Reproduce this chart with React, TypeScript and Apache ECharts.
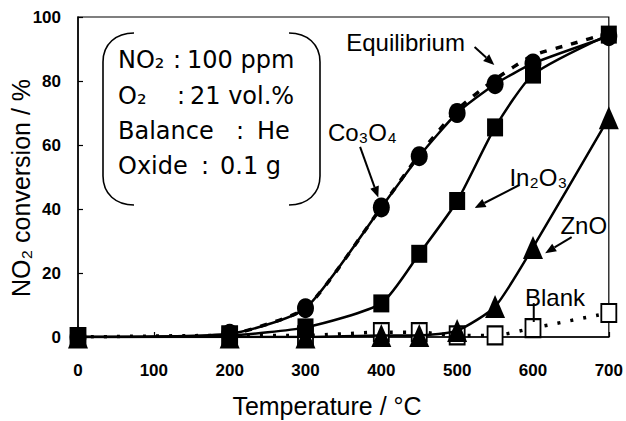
import React, { useEffect, useRef } from "react";
import * as echarts from "echarts";

// Measured NO2 conversion (%) against reaction temperature (°C)
const temps = [0, 200, 300, 400, 450, 500, 550, 600, 700];
const co3o4 = [0, 1, 9, 40.5, 56.5, 70, 79, 85.5, 94];
const in2o3 = [0, 0.5, 3, 10.5, 26, 42.5, 65.5, 82, 94.5];
const zno = [0, 0, 0, 0.5, 0.5, 2, 9.5, 28, 68.5];
const blank = [0, 0.5, 0.5, 1.5, 1.5, 0.5, 0.5, 2.8, 7.5];

// Thermodynamic equilibrium curve
const eqTemps = [200, 300, 400, 450, 500, 550, 600, 650, 700];
const equilibrium = [0.5, 9, 40.5, 57, 71, 80.5, 88, 91.5, 95];

// Axis ranges / tick steps
const xTicks = [0, 100, 200, 300, 400, 500, 600, 700];
const yTicks = [0, 20, 40, 60, 80, 100];

// Reaction conditions shown in the bracketed box
const condLabels = ["NO₂", "O₂", "Balance", "Oxide"];
const condValues = ["100 ppm", "21 vol.%", "He", "0.1 g"];

// Curve labels with their leader arrows, in data coordinates
const notes = [
  { text: "Equilibrium", at: [432, 91.9], from: [523, 90.6], to: [549, 85], head: true },
  { text: "Co₃O₄", at: [375, 64], from: [372, 59.4], to: [396, 43.6], head: true },
  { text: "In₂O₃", at: [607, 50], from: [582, 47.5], to: [523, 40.3], head: true },
  { text: "ZnO", at: [667, 35], from: [651, 31.2], to: [616, 26.2], head: true },
  { text: "Blank", at: [629, 12.5], from: [601, 10.6], to: [601, 4.7], head: false },
];

echarts.graphic.registerShape(
  "bracketL",
  echarts.graphic.extendPath("M134,33 C116,33 103,44 103,62 L103,176 C103,194 116,205 134,205", {})
);
echarts.graphic.registerShape(
  "bracketR",
  echarts.graphic.extendPath("M289,33 C307,33 320,44 320,62 L320,176 C320,194 307,205 289,205", {})
);

const pair = (xs: number[], ys: number[]) => xs.map((x, i) => [x, ys[i]]);

const TICK_FONT = "'Liberation Sans Narrow', 'Arial Narrow', 'Liberation Sans', Arial, sans-serif";
const LABEL_FONT = "'Liberation Sans', Arial, sans-serif";
const BOX_FONT = "'DejaVu Sans', sans-serif";

// Layout of the condition box rows: label x, colon x, value x, row y
const condLayout = [
  [118, 177, 187, 60],
  [118, 181, 190, 96],
  [118, 240, 257, 131],
  [118, 205, 220, 166],
];

function arrowParts(p0: number[], p1: number[], head: boolean) {
  const dx = p1[0] - p0[0];
  const dy = p1[1] - p0[1];
  const d = Math.hypot(dx, dy);
  const ux = dx / d;
  const uy = dy / d;
  const len = head ? 11 : 0;
  const hw = 4.5;
  const bx = p1[0] - ux * len;
  const by = p1[1] - uy * len;
  const parts: any[] = [
    {
      type: "line",
      shape: { x1: p0[0], y1: p0[1], x2: bx, y2: by },
      style: { stroke: "#000", lineWidth: 2 },
      z: 100,
    },
  ];
  if (head) {
    parts.push({
      type: "polygon",
      shape: {
        points: [
          [p1[0], p1[1]],
          [bx - uy * hw, by + ux * hw],
          [bx + uy * hw, by - ux * hw],
        ],
      },
      style: { fill: "#000" },
      z: 100,
    });
  }
  return parts;
}

export default function App() {
  const ref = useRef<HTMLDivElement>(null);

  useEffect(() => {
    document.body.style.margin = "0";
    if (!ref.current) return;
    const chart = echarts.init(ref.current, undefined, { renderer: "svg" });

    const lineBase = { type: "line", smooth: 0.2, symbolKeepAspect: false };

    chart.setOption({
      animation: false,
      backgroundColor: "#fff",
      grid: {
        left: 78,
        right: 14,
        top: 17,
        bottom: 84,
        show: true,
        borderColor: "#000",
        borderWidth: 1.2,
      },
      xAxis: {
        type: "value",
        min: xTicks[0],
        max: xTicks[xTicks.length - 1],
        interval: xTicks[1] - xTicks[0],
        axisLine: { show: true, lineStyle: { color: "#000", width: 1.5 } },
        axisTick: { show: true, inside: true, length: 5, lineStyle: { color: "#000", width: 1.2 } },
        axisLabel: {
          color: "#000",
          fontFamily: TICK_FONT,
          fontWeight: "bold",
          fontSize: 17,
          margin: 25,
        },
        splitLine: { show: false },
      },
      yAxis: {
        type: "value",
        min: yTicks[0],
        max: yTicks[yTicks.length - 1],
        interval: yTicks[1] - yTicks[0],
        axisLine: { show: true, lineStyle: { color: "#000", width: 1.5 } },
        axisTick: { show: true, inside: true, length: 5, lineStyle: { color: "#000", width: 1.2 } },
        axisLabel: {
          color: "#000",
          fontFamily: TICK_FONT,
          fontWeight: "bold",
          fontSize: 17,
          margin: 17,
        },
        splitLine: { show: false },
      },
      series: [
        {
          ...lineBase,
          name: "Equilibrium",
          data: pair(eqTemps, equilibrium),
          showSymbol: false,
          symbol: "none",
          lineStyle: { color: "#000", width: 3.5, type: [7, 9] },
          z: 2,
        },
        {
          ...lineBase,
          name: "Blank",
          data: pair(temps, blank),
          symbol: "rect",
          symbolSize: [15, 18],
          itemStyle: { color: "#fff", borderColor: "#000", borderWidth: 2 },
          lineStyle: { color: "#000", width: 3.5, type: [3, 10] },
          z: 3,
        },
        {
          ...lineBase,
          name: "Co₃O₄",
          data: pair(temps, co3o4),
          symbol: "circle",
          symbolSize: [17, 20],
          itemStyle: { color: "#000" },
          lineStyle: { color: "#000", width: 2.5 },
          z: 4,
        },
        {
          ...lineBase,
          name: "In₂O₃",
          data: pair(temps, in2o3),
          symbol: "rect",
          symbolSize: [16, 18],
          itemStyle: { color: "#000" },
          lineStyle: { color: "#000", width: 2.5 },
          z: 5,
        },
        {
          ...lineBase,
          name: "ZnO",
          data: pair(temps, zno),
          symbol: "triangle",
          symbolSize: [20, 23],
          itemStyle: { color: "#000" },
          lineStyle: { color: "#000", width: 2.5 },
          z: 6,
        },
      ],
    });

    const toPx = (p: number[]) => chart.convertToPixel({ gridIndex: 0 }, p) as number[];

    const graphics: any[] = [];

    // Axis titles
    graphics.push({
      type: "text",
      x: 327,
      y: 406,
      style: {
        text: "Temperature / °C",
        font: `25px ${LABEL_FONT}`,
        fill: "#000",
        textAlign: "center",
        textVerticalAlign: "middle",
      },
    });
    graphics.push({
      type: "text",
      x: 21,
      y: 188,
      rotation: Math.PI / 2,
      style: {
        text: "NO₂ conversion / %",
        font: `25px ${LABEL_FONT}`,
        fill: "#000",
        textAlign: "center",
        textVerticalAlign: "middle",
      },
    });

    // Condition box
    graphics.push({ type: "bracketL", x: 0, y: 0, style: { fill: "none", stroke: "#000", lineWidth: 1.6 } });
    graphics.push({ type: "bracketR", x: 0, y: 0, style: { fill: "none", stroke: "#000", lineWidth: 1.6 } });
    condLabels.forEach((lab, i) => {
      const [lx, cx, vx, y] = condLayout[i];
      const base = { font: `24px ${BOX_FONT}`, fill: "#000", textVerticalAlign: "middle" };
      graphics.push({ type: "text", x: lx, y, style: { ...base, text: lab, textAlign: "left" } });
      graphics.push({ type: "text", x: cx, y, style: { ...base, text: ":", textAlign: "center" } });
      graphics.push({ type: "text", x: vx, y, style: { ...base, text: condValues[i], textAlign: "left" } });
    });

    // Curve labels and leader arrows
    notes.forEach((n) => {
      const p = toPx(n.at);
      graphics.push({
        type: "text",
        x: p[0],
        y: p[1],
        z: 100,
        style: {
          text: n.text,
          font: `24px ${LABEL_FONT}`,
          fill: "#000",
          textAlign: "center",
          textVerticalAlign: "middle",
        },
      });
      graphics.push(...arrowParts(toPx(n.from), toPx(n.to), n.head));
    });

    chart.setOption({ graphic: graphics });

    return () => chart.dispose();
  }, []);

  return <div ref={ref} style={{ width: 626, height: 421 }} />;
}
